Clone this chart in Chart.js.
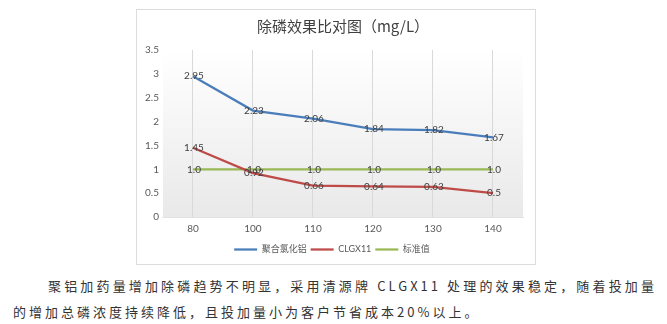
<!DOCTYPE html>
<html>
<head>
<meta charset="utf-8">
<title>除磷效果比对图</title>
<script src="https://cdn.jsdelivr.net/npm/chart.js@4/dist/chart.umd.min.js"></script>
<style>
    body {
        margin: 0;
        width: 667px;
        height: 324px;
        position: relative;
        overflow: hidden;
        background: #fff;
        font-family: "Noto Sans CJK SC", sans-serif;
    }
    #card {
        position: absolute;
        left: 136px;
        top: 9px;
        width: 398px;
        height: 254px;
        border: 1px solid #dcdcdc;
    }
    #card canvas { display: block; }
    #note {
        position: absolute;
        left: 13px;
        top: 273px;
        width: 644px;
        margin: 0;
        font-size: 13px;
        letter-spacing: 3px;
        line-height: 26px;
        color: #333;
        text-align: justify;
        text-indent: 35px;
    }
</style>
</head>
<body>
<div id="card"><canvas id="phos-chart" width="398" height="254"></canvas></div>
<p id="note">聚铝加药量增加除磷趋势不明显，采用清源牌 CLGX11 处理的效果稳定，随着投加量的增加总磷浓度持续降低，且投加量小为客户节省成本20%以上。</p>
<script>
// dosage categories (x axis)
const dosages = ['80', '100', '110', '120', '130', '140'];

// series values (mg/L)
const pacValues = [2.95, 2.23, 2.06, 1.84, 1.82, 1.67];
const clgxValues = [1.45, 0.92, 0.66, 0.64, 0.63, 0.5];
const standardValues = [1.0, 1.0, 1.0, 1.0, 1.0, 1.0];

const seriesNames = ['聚合氯化铝', 'CLGX11', '标准值'];
const chartTitle = '除磷效果比对图（mg/L）';

Chart.defaults.font.family = 'Lato, "Noto Sans CJK SC", sans-serif';

function formatValue(v) {
    // 1.0 / 0.5 keep one decimal, the rest two
    return Number.isInteger(Math.round(v * 1000) / 100) ? v.toFixed(1) : v.toFixed(2);
}

// light grey gradient behind the plot area
const plotBackground = {
    id: 'plotBackground',
    beforeDraw(chart) {
        const {ctx, chartArea: a} = chart;
        const g = ctx.createLinearGradient(0, a.top, 0, a.bottom);
        g.addColorStop(0, '#ffffff');
        g.addColorStop(1, '#e9e9e9');
        ctx.save();
        ctx.fillStyle = g;
        ctx.fillRect(a.left, a.top, a.right - a.left, a.bottom - a.top);
        ctx.restore();
    }
};

// title centred over the plot area, like the original
const plotTitle = {
    id: 'plotTitle',
    afterDraw(chart) {
        const {ctx, chartArea: a} = chart;
        ctx.save();
        ctx.font = '15px "Noto Sans CJK SC", sans-serif';
        ctx.fillStyle = '#404040';
        ctx.textAlign = 'center';
        ctx.textBaseline = 'middle';
        ctx.fillText(chartTitle, (a.left + a.right) / 2, 16);
        ctx.restore();
    }
};

// value labels sitting right on the points
const valueLabels = {
    id: 'valueLabels',
    afterDatasetsDraw(chart) {
        const ctx = chart.ctx;
        ctx.save();
        ctx.font = '10px Lato, sans-serif';
        ctx.fillStyle = '#404040';
        ctx.textAlign = 'center';
        ctx.textBaseline = 'middle';
        chart.data.datasets.forEach((ds, i) => {
            chart.getDatasetMeta(i).data.forEach((pt, j) => {
                ctx.fillText(formatValue(ds.data[j]), pt.x + 1, pt.y);
            });
        });
        ctx.restore();
    }
};

function lineSeries(label, data, color) {
    return {
        label: label,
        data: data,
        borderColor: color,
        backgroundColor: color,
        borderWidth: 2.25,
        pointRadius: 0,
        tension: 0,
        fill: false
    };
}

new Chart(document.getElementById('phos-chart'), {
    type: 'line',
    data: {
        labels: dosages,
        datasets: [
            lineSeries(seriesNames[0], pacValues, '#4a7ebb'),
            lineSeries(seriesNames[1], clgxValues, '#be4b48'),
            lineSeries(seriesNames[2], standardValues, '#98b954')
        ]
    },
    options: {
        responsive: false,
        animation: false,
        layout: {
            padding: {top: 40, right: 12, left: 4, bottom: 0}
        },
        plugins: {
            legend: {
                position: 'bottom',
                labels: {
                    usePointStyle: true,
                    pointStyle: 'line',
                    pointStyleWidth: 23,
                    color: '#595959',
                    font: {size: 9},
                    padding: 4
                }
            },
            title: {display: false},
            tooltip: {enabled: false}
        },
        scales: {
            x: {
                offset: true,
                grid: {offset: false, color: '#d9d9d9', drawTicks: false},
                border: {display: true, color: '#e2e2e2'},
                ticks: {color: '#595959', font: {size: 10}, padding: 6}
            },
            y: {
                min: 0,
                max: 3.5,
                grid: {display: false, drawTicks: false},
                border: {display: false},
                ticks: {
                    stepSize: 0.5,
                    color: '#595959',
                    font: {size: 10},
                    padding: 4,
                    callback: v => String(Math.round(v * 10) / 10)
                }
            }
        }
    },
    plugins: [plotBackground, plotTitle, valueLabels]
});
</script>
</body>
</html>
